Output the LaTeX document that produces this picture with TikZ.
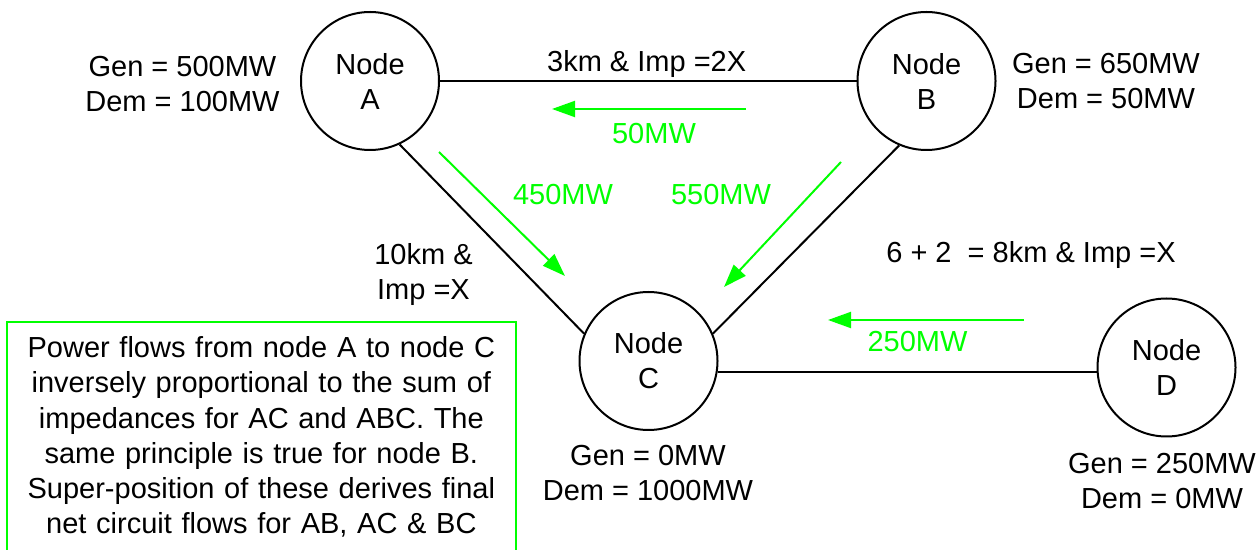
\documentclass[tikz,border=0pt]{standalone}
\usepackage{fontspec}
\setmainfont{Liberation Sans}
\usetikzlibrary{arrows.meta}
\definecolor{flowgreen}{RGB}{0,255,0}
\begin{document}
\begin{tikzpicture}[x=0.5pt,y=-0.5pt,
  font=\fontsize{14.5}{17.5}\selectfont,
  bus/.style={circle,draw,line width=1pt,minimum size=69pt,inner sep=0pt,align=center},
  lbl/.style={align=center,inner sep=0pt},
  flowlbl/.style={lbl,text=flowgreen,anchor=base},
  wire/.style={line width=1pt},
  flow/.style={draw=flowgreen,line width=1pt,-{Triangle[length=11.5pt,width=8pt]}},
  notebox/.style={draw=flowgreen,line width=1pt,outer sep=0pt,inner xsep=0pt,inner ysep=7.2pt,
    text width=254.65pt,align=center,anchor=north,font=\fontsize{14.5}{17.6}\selectfont}]
\useasboundingbox (0,0) rectangle (1258,550);

% buses
\node[bus] (A) at (370,81) {Node\\A};
\node[bus] (B) at (926.5,81) {Node\\B};
\node[bus] (C) at (648.5,361) {Node\\C};
\node[bus] (D) at (1166.5,367.5) {Node\\D};

% generation / demand labels
\node[lbl] (gA) at (182.5,84) {Gen = 500MW\\Dem = 100MW};
\node[lbl] (gB) at (1106,81) {Gen = 650MW\\Dem = 50MW};
\node[lbl] (gC) at (648,473.5) {Gen = 0MW\\Dem = 1000MW};
\node[lbl] (gD) at (1162,481.5) {Gen = 250MW\\Dem = 0MW};

% lines
\draw[wire] (A.east) -- (B.west);
\draw[wire] (A.-65.7) -- (C.157);
\draw[wire] (B.-113.6) -- (C.23);
\draw[wire] (C.-9) -- (C.-9 -| D.west);

% line labels
\node[lbl,anchor=base] (lAB) at (646.7,72) {3km \& Imp =2X};
\node[lbl] (lAC) at (423.5,274.3) {10km \&\\Imp =X};
\node[lbl,anchor=base] (lCD) at (1031,263) {6 + 2\ \ = 8km \& Imp =X};

% flow arrows
\coordinate (ab1) at (746,109);  \coordinate (ab2) at (552,109);
\coordinate (ac1) at (439,152);  \coordinate (ac2) at (565,276);
\coordinate (bc1) at (841,162);  \coordinate (bc2) at (724,287);
\coordinate (cd1) at (1024,320); \coordinate (cd2) at (828,320);
\draw[flow] (ab1) -- (ab2);
\draw[flow] (ac1) -- (ac2);
\draw[flow] (bc1) -- (bc2);
\draw[flow] (cd1) -- (cd2);

\node[flowlbl] (f50) at (654,143.5) {50MW};
\node[flowlbl] (f450) at (563,205) {450MW};
\node[flowlbl] (f550) at (721,205) {550MW};
\node[flowlbl] (f250) at (917.5,352) {250MW};

% explanatory note
\node[notebox] (note) at (261.35,322.3) {Power flows from node A to node C\\
inversely proportional to the sum of\\
impedances for AC and ABC. The\\
same principle is true for node B.\\
Super-position of these derives final\\
net circuit flows for AB, AC \& BC\\
\mbox{}};
\end{tikzpicture}
\end{document}
